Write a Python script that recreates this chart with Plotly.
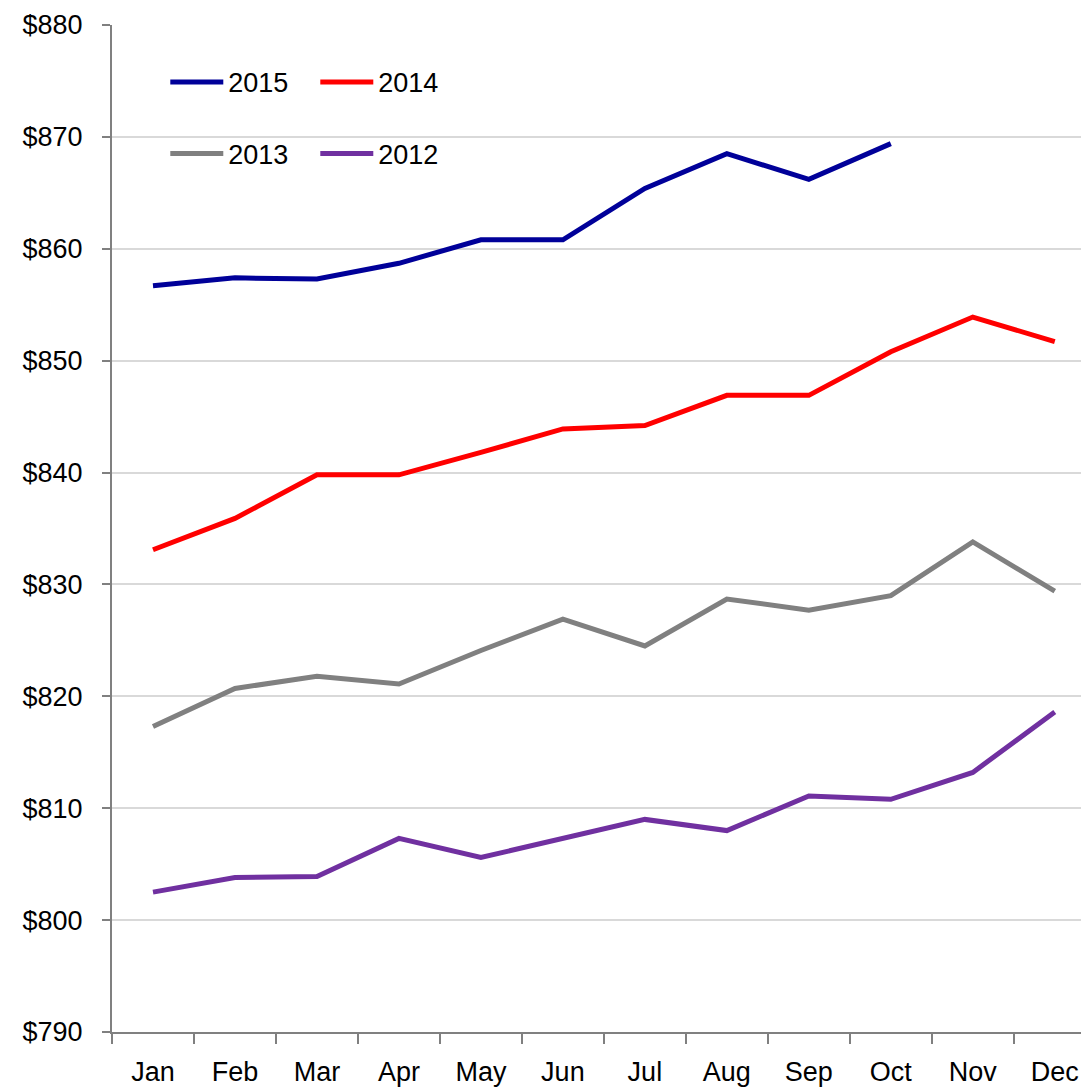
import plotly.graph_objects as go

months = ["Jan", "Feb", "Mar", "Apr", "May", "Jun", "Jul", "Aug", "Sep", "Oct", "Nov", "Dec"]
s2015 = [856.7, 857.4, 857.3, 858.7, 860.8, 860.8, 865.4, 868.5, 866.2, 869.4, None, None]
s2014 = [833.1, 835.9, 839.8, 839.8, 841.8, 843.9, 844.2, 846.9, 846.9, 850.8, 853.9, 851.7]
s2013 = [817.3, 820.7, 821.8, 821.1, 824.1, 826.9, 824.5, 828.7, 827.7, 829.0, 833.8, 829.4]
s2012 = [802.5, 803.8, 803.9, 807.3, 805.6, 807.3, 809.0, 808.0, 811.1, 810.8, 813.2, 818.6]
y_ticks = [790, 800, 810, 820, 830, 840, 850, 860, 870, 880]
y_labels = ["$" + str(v) for v in y_ticks]

FONT = "Liberation Sans, Arial"

fig = go.Figure()
series = [
    ("2015", s2015, "#000099", "legend"),
    ("2014", s2014, "#FF0000", "legend"),
    ("2013", s2013, "#808080", "legend2"),
    ("2012", s2012, "#7030A0", "legend2"),
]
for name, vals, col, leg in series:
    fig.add_trace(go.Scatter(x=months, y=vals, name=name, mode="lines",
                             line=dict(color=col, width=5), legend=leg))

leg_common = dict(orientation="h", bgcolor="rgba(0,0,0,0)", font=dict(family=FONT, size=27, color="#000"),
                  xanchor="left", yanchor="middle", itemwidth=53, entrywidth=82, tracegroupgap=0)
fig.update_layout(
    width=1081, height=1087,
    margin=dict(l=112, r=0, t=25, b=55, autoexpand=False),
    plot_bgcolor="white", paper_bgcolor="white",
    font=dict(family=FONT, size=27, color="#000"),
    showlegend=True,
    legend=dict(x=0.055, y=0.943, **leg_common),
    legend2=dict(x=0.055, y=0.872, **leg_common),
    xaxis=dict(
        type="category",
        range=[-0.5, 11.32], showgrid=False, showline=True, linecolor="#808080", linewidth=2,
        ticks="outside", ticklen=10, tickcolor="#808080", tickwidth=2, tickson="boundaries",
        zeroline=False, ticklabelstandoff=15,
    ),
    yaxis=dict(
        tickmode="array", tickvals=y_ticks, ticktext=y_labels, range=[790, 880],
        showgrid=True, gridcolor="#D9D9D9", gridwidth=2, showline=True, linecolor="#808080", linewidth=2,
        ticks="outside", ticklen=8, tickcolor="#808080", tickwidth=2, zeroline=False,
        ticklabelstandoff=14,
    ),
)
fig.write_html("out.html", config={"displayModeBar": False},
               post_script="document.body.style.margin='0';document.body.style.overflow='hidden';")
